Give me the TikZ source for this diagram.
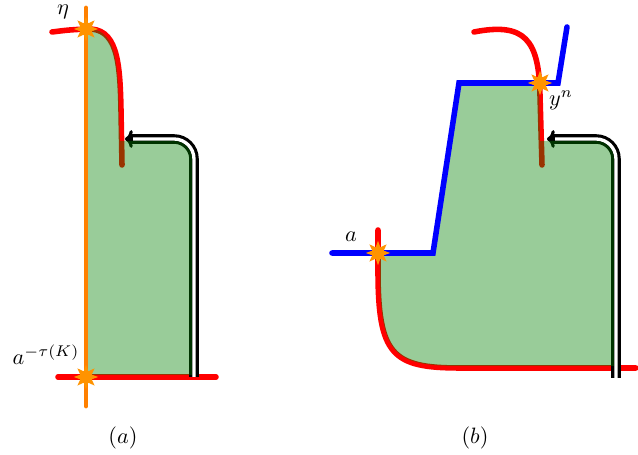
\documentclass[tikz,border=0pt]{standalone}
\usepackage{amsmath,amssymb}
\usepackage{xcolor}
\usetikzlibrary{shapes.geometric,arrows.meta}

\begin{document}
\begin{tikzpicture}[x=0.45pt,y=-0.45pt,
  curve/.style={red,line width=2.5pt,line cap=round},
  wall/.style={blue,line width=2.5pt,line cap=round},
  axis/.style={orange,line width=2.2pt,line cap=round},
  region/.style={fill=green!50!black,fill opacity=0.4},
  flow/.style={double=white,draw=black,line width=1.4pt,double distance=1.5pt},
  tip/.style={black,line width=1.4pt,{To[length=3.5pt,width=8pt]}-},
  spark/.style={star,star points=8,star point ratio=2,fill=orange!85!yellow,
    inner sep=0pt,minimum size=11pt}]
  \useasboundingbox (0,0) rectangle (638,455);

  \coordinate (top) at (86,29);
  \coordinate (bot) at (86,377);
  \draw[curve] (52,32) .. controls (68,30) .. (top)
    .. controls (117,27) and (120,60) .. (121,110) -- (122,165);
  \draw[curve] (58,377) -- (216,377);
  \draw[flow] (129,139) -- (174,139) arc[start angle=-90,end angle=0,radius=20] -- (194,377);
  \draw[tip] (125,139) -- (133,139);
  \fill[region] (top) .. controls (115,27) and (118,60) .. (119,110) -- (120,141)
    -- (174,141) arc[start angle=-90,end angle=0,radius=18] -- (192,375) -- (86,375) -- cycle;
  \draw[axis] (86,8) -- (86,406);
  \node[spark] (s1) at (top) {};
  \node[spark] (s2) at (bot) {};
  \node (eta) at (63,12) {$\eta$};
  \node (ak) at (46,355) {$a^{-\tau(K)}$};
  \node (capa) at (123,438) {$(a)$};

  \coordinate (cross) at (540,83);
  \coordinate (meet) at (378,253);
  \draw[curve] (474,32) .. controls (525,22) and (539,40) .. (540,95) -- (542,165);
  \draw[curve] (378,230) -- (378,270) .. controls (378,355) and (392,368) .. (460,368) -- (636,368);
  \draw[flow] (551,139) -- (596,139) arc[start angle=-90,end angle=0,radius=20] -- (616,378);
  \draw[tip] (547,139) -- (555,139);
  \fill[region] (meet) -- (433,253) -- (459,83) -- (539,83) -- (540,141)
    -- (596,141) arc[start angle=-90,end angle=0,radius=18] -- (614,366) -- (460,366)
    .. controls (394,366) and (380,355) .. (380,270) -- (380,253) -- cycle;
  \draw[wall] (332,253) -- (433,253) -- (459,83) -- (558,83) -- (567,27);
  \node[spark] (s3) at (cross) {};
  \node[spark] (s4) at (meet) {};
  \node (aa) at (351,237) {$a$};
  \node (yn) at (561,100) {$y^n$};
  \node (capb) at (475,438) {$(b)$};
\end{tikzpicture}
\end{document}
